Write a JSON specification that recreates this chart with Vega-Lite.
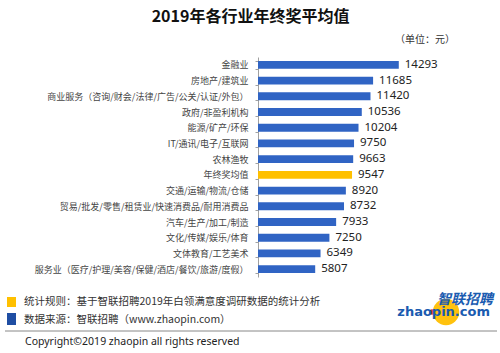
{
  "$schema": "https://vega.github.io/schema/vega-lite/v6.json",
  "autosize": "none",
  "width": 197,
  "height": 220,
  "padding": {"left": 258, "top": 57, "right": 45, "bottom": 76},
  "background": "white",
  "config": {"view": {"stroke": null}, "font": "Noto Sans CJK SC"},
  "title": {
    "text": "2019年各行业年终奖平均值",
    "fontSize": 16,
    "fontWeight": "bold",
    "color": "#111111",
    "font": "Noto Sans CJK SC",
    "anchor": "middle",
    "frame": "group",
    "dx": -106,
    "offset": 10
  },
  "layer": [
    {
      "data": {
        "values": [
          {"name": "金融业", "value": 14293, "kind": "行业"},
          {"name": "房地产/建筑业", "value": 11685, "kind": "行业"},
          {"name": "商业服务（咨询/财会/法律/广告/公关/认证/外包）", "value": 11420, "kind": "行业"},
          {"name": "政府/非盈利机构", "value": 10536, "kind": "行业"},
          {"name": "能源/矿产/环保", "value": 10204, "kind": "行业"},
          {"name": "IT/通讯/电子/互联网", "value": 9750, "kind": "行业"},
          {"name": "农林渔牧", "value": 9663, "kind": "行业"},
          {"name": "年终奖均值", "value": 9547, "kind": "均值"},
          {"name": "交通/运输/物流/仓储", "value": 8920, "kind": "行业"},
          {"name": "贸易/批发/零售/租赁业/快速消费品/耐用消费品", "value": 8732, "kind": "行业"},
          {"name": "汽车/生产/加工/制造", "value": 7933, "kind": "行业"},
          {"name": "文化/传媒/娱乐/体育", "value": 7250, "kind": "行业"},
          {"name": "文体教育/工艺美术", "value": 6349, "kind": "行业"},
          {"name": "服务业（医疗/护理/美容/保健/酒店/餐饮/旅游/度假）", "value": 5807, "kind": "行业"}
        ]
      },
      "encoding": {
        "y": {
          "field": "name",
          "type": "nominal",
          "sort": null,
          "scale": {"paddingInner": 0.5, "paddingOuter": 0.25},
          "axis": {
            "title": null,
            "labelFont": "Noto Sans CJK SC",
            "labelFontSize": 9,
            "labelColor": "#444444",
            "domainColor": "#a0a0a0",
            "tickColor": "#a0a0a0",
            "tickSize": 3,
            "tickBand": "extent",
            "labelPadding": 7,
            "labelLimit": 260
          }
        },
        "x": {
          "field": "value",
          "type": "quantitative",
          "scale": {"domain": [0, 20000]},
          "axis": null
        }
      },
      "layer": [
        {
          "mark": {"type": "bar"},
          "encoding": {
            "color": {
              "field": "kind",
              "type": "nominal",
              "scale": {"domain": ["行业", "均值"], "range": ["#3064c4", "#ffc000"]},
              "legend": null
            }
          }
        },
        {
          "mark": {"type": "text", "align": "left", "baseline": "middle", "dx": 6, "fontSize": 11.5, "color": "#222222", "font": "Noto Sans"},
          "encoding": {"text": {"field": "value", "type": "quantitative", "format": "d"}}
        }
      ]
    },
    {
      "data": {"values": [{"t": "（单位：元）"}]},
      "mark": {"type": "text", "align": "right", "baseline": "middle", "fontSize": 10, "color": "#333333"},
      "encoding": {"x": {"value": 197}, "y": {"value": -17}, "text": {"field": "t"}}
    },
    {
      "data": {"values": [{"c": "y"}]},
      "mark": {"type": "rect", "color": "#ffc000"},
      "encoding": {"x": {"value": -251}, "x2": {"value": -242}, "y": {"value": 240}, "y2": {"value": 250}}
    },
    {
      "data": {"values": [{"c": "b"}]},
      "mark": {"type": "rect", "color": "#1f4ea3"},
      "encoding": {"x": {"value": -251}, "x2": {"value": -242}, "y": {"value": 256}, "y2": {"value": 268}}
    },
    {
      "data": {"values": [{"t": "统计规则：基于智联招聘2019年白领满意度调研数据的统计分析"}]},
      "mark": {"type": "text", "align": "left", "baseline": "middle", "fontSize": 10.5, "color": "#333333"},
      "encoding": {"x": {"value": -234}, "y": {"value": 245}, "text": {"field": "t"}}
    },
    {
      "data": {"values": [{"t": "数据来源：智联招聘（www.zhaopin.com）"}]},
      "mark": {"type": "text", "align": "left", "baseline": "middle", "fontSize": 10.5, "color": "#333333"},
      "encoding": {"x": {"value": -234}, "y": {"value": 263}, "text": {"field": "t"}}
    },
    {
      "data": {"values": [{"c": "line"}]},
      "mark": {"type": "rule", "color": "#888888", "strokeWidth": 1},
      "encoding": {"x": {"value": -253}, "x2": {"value": 239}, "y": {"value": 274}}
    },
    {
      "data": {"values": [{"t": "Copyright©2019 zhaopin all rights reserved"}]},
      "mark": {"type": "text", "align": "left", "baseline": "middle", "fontSize": 10.5, "color": "#222222", "font": "Noto Sans"},
      "encoding": {"x": {"value": -233}, "y": {"value": 285}, "text": {"field": "t"}}
    },
    {
      "data": {"values": [{"c": "circle"}]},
      "mark": {"type": "circle", "color": "#ffc20e", "opacity": 1},
      "encoding": {"x": {"value": 188}, "y": {"value": 255}, "size": {"value": 700}}
    },
    {
      "data": {"values": [{"c": "dot"}]},
      "mark": {"type": "circle", "color": "#e03a1e", "opacity": 1},
      "encoding": {"x": {"value": 174}, "y": {"value": 255}, "size": {"value": 30}}
    },
    {
      "data": {"values": [{"t": "智联招聘"}]},
      "mark": {"type": "text", "align": "right", "baseline": "middle", "fontSize": 14, "fontWeight": "bold", "fontStyle": "italic", "color": "#1a5bb0"},
      "encoding": {"x": {"value": 235}, "y": {"value": 243}, "text": {"field": "t"}}
    },
    {
      "data": {"values": [{"t": "zhaopin.com"}]},
      "mark": {"type": "text", "align": "right", "baseline": "middle", "fontSize": 13, "fontWeight": "bold", "color": "#1a5bb0", "font": "DejaVu Sans"},
      "encoding": {"x": {"value": 232}, "y": {"value": 255}, "text": {"field": "t"}}
    }
  ]
}
